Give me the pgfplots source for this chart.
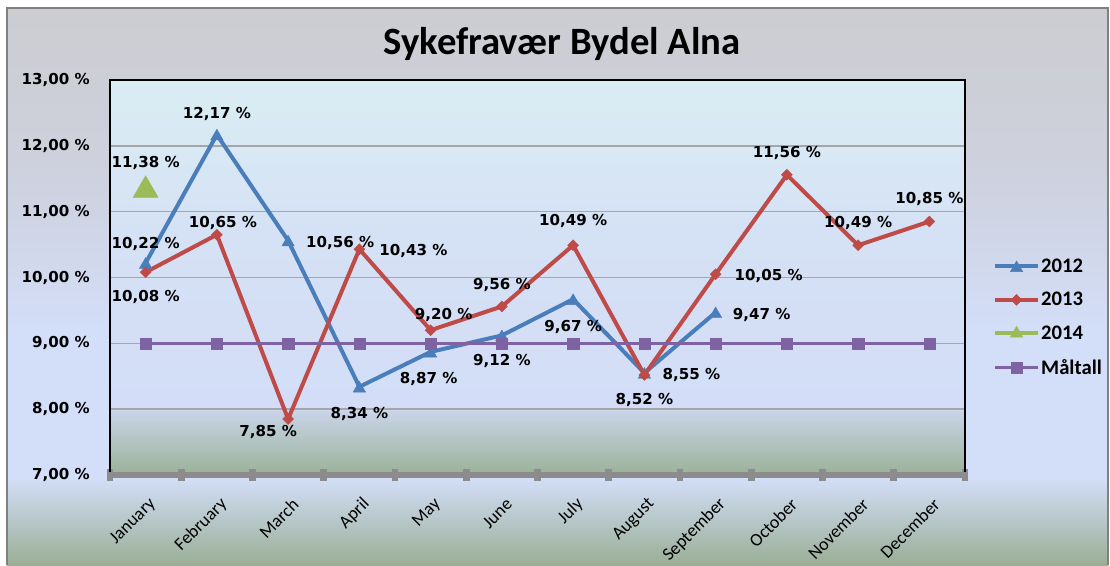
\documentclass[border=0pt]{standalone}
\usepackage{fontspec}
\setmainfont{Carlito}
\newfontfamily\lblfont{DejaVu Sans}
\usepackage{pgfplots}
\usepackage{pgfplotstable}
\pgfplotsset{compat=1.18}

\definecolor{c12}{HTML}{4A7EBB}
\definecolor{c13}{HTML}{BE4B48}
\definecolor{c14}{HTML}{9BBB59}
\definecolor{cmal}{HTML}{7F62A1}
\definecolor{axgray}{HTML}{8C8C8C}
\definecolor{gridgray}{HTML}{A6A6A6}
\definecolor{pgreen}{HTML}{9AB198}
\definecolor{pgreenlt}{HTML}{C9D4E8}
\definecolor{pblue}{HTML}{D3DDF7}
\definecolor{pblue2}{HTML}{D5E1F5}
\definecolor{ptop}{HTML}{DAEDF3}
\definecolor{ogreen}{HTML}{9AAE96}
\definecolor{oblue}{HTML}{D3DEF8}
\definecolor{ogray1}{HTML}{CED1DE}
\definecolor{ogray}{HTML}{CCCDD1}

% plot area: 7 -> 25bp, 13 -> 75bp
\pgfdeclareverticalshading{plotbg}{100bp}{color(0bp)=(pgreen); color(25bp)=(pgreen); color(33.1bp)=(pgreenlt); color(33.4bp)=(pblue); color(55bp)=(pblue2); color(75bp)=(ptop); color(100bp)=(ptop)}
\pgfdeclareverticalshading{outerbg}{100bp}{color(0bp)=(ogreen); color(25bp)=(ogreen); color(32.8bp)=(oblue); color(46bp)=(oblue); color(60bp)=(ogray1); color(75bp)=(ogray); color(100bp)=(ogray)}

% x  y  label offsets dx dy (px)
\pgfplotstableread{
x y dx dy
0 10.22 0 21
1 12.17 0 22
2 10.56 52 -1
3 8.34 0 -25
4 8.87 -2 -25
5 9.12 0 -24
6 9.67 0 -26
7 8.55 47 0
8 9.47 46 -1
}\tabA
\pgfplotstableread{
x y dx dy
0 10.08 0 -25
1 10.65 6 12
2 7.85 -20 -13
3 10.43 54 -2
4 9.20 13 15
5 9.56 0 21
6 10.49 0 24
7 8.52 0 -25
8 10.05 53 -2
9 11.56 0 22
10 10.49 0 22
11 10.85 0 23
}\tabB
\pgfplotstableread{
x y dx dy
0 11.38 0 27
}\tabC
\pgfplotstableread{
x y
0 9
1 9
2 9
3 9
4 9
5 9
6 9
7 9
8 9
9 9
10 9
11 9
}\tabD

\pgfkeys{/pgf/number format/.cd, fixed, fixed zerofill, precision=2, use comma, assume math mode=true}

\begin{document}
\begin{tikzpicture}
\path[use as bounding box] (-82.5pt,-67.5pt) rectangle (750pt,356.25pt);
\fill[white] (-82.5pt,-67.5pt) rectangle (750pt,356.25pt);
\shade[shading=outerbg] (-77.25pt,-67.5pt) rectangle (748.5pt,350.25pt);
\draw[gray, line width=0.9pt] (-77.25pt,-67.5pt) -- (-77.25pt,350.25pt) -- (748.5pt,350.25pt) -- (748.5pt,-67.5pt);

\begin{axis}[
  at={(0pt,0pt)}, anchor=south west,
  scale only axis, width=641.25pt, height=296.25pt,
  xmin=-0.5, xmax=11.5, ymin=7, ymax=13,
  clip=false,
  axis background/.style={shade, shading=plotbg},
  axis line style={draw=none},
  xtick={0,...,11},
  xticklabels={January,February,March,April,May,June,July,August,September,October,November,December},
  minor xtick={-0.5,0.5,...,11.5},
  xtick pos=bottom, ytick pos=left,
  major tick length=0pt, minor tick length=9pt, tick align=center,
  minor x tick style={axgray, line width=5pt},
  ytick={7,...,13},
  ymajorgrids, major grid style={gridgray, line width=1.1pt},
  yticklabel={\pgfmathprintnumber{\tick}~\%},
  yticklabel style={font=\lblfont\bfseries\fontsize{11.3}{13}\selectfont, anchor=east, inner sep=0pt, xshift=-15pt},
  xticklabel style={font=\fontsize{13.5}{15}\selectfont, rotate=45, anchor=east, inner sep=0pt, xshift=-10pt, yshift=-18pt},
  legend style={draw=none, fill=none, at={(1.028,0.399)}, anchor=west,
    font=\bfseries\fontsize{15.5}{17}\selectfont, row sep=11.5pt, nodes={inner sep=1pt}},
  legend cell align=left,
  legend image code/.code={\draw[mark repeat=2,mark phase=2,#1] plot coordinates {(0pt,0pt) (16pt,0pt) (32pt,0pt)};},
  lbl/.style={nodes near coords={\pgfmathprintnumber{\pgfplotspointmeta}~\%},
    point meta=\thisrow{y},
    visualization depends on={\thisrow{dx}\as\dx},
    visualization depends on={\thisrow{dy}\as\dy},
    every node near coord/.append style={anchor=center, text=black,
      xshift=\dx*0.75pt, yshift=\dy*0.75pt,
      font=\lblfont\bfseries\fontsize{11.3}{13}\selectfont}},
  after end axis/.code={
    \draw[black, line width=1.6pt] (rel axis cs:0,0) -- (rel axis cs:0,1) -- (rel axis cs:1,1) -- (rel axis cs:1,0);
    \draw[axgray, line width=3.8pt] ([xshift=-2pt]rel axis cs:0,0) -- ([xshift=1pt]rel axis cs:1,0);
  },
]
\addplot[c12, line width=3pt, mark=triangle*, mark size=5.4pt,
  mark options={solid, fill=c12, line width=0.3pt, yshift=-1.3pt}, lbl] table[x=x,y=y] {\tabA};
\addplot[c13, line width=3pt, mark=square*, mark size=2.9pt,
  mark options={solid, fill=c13, line width=0.3pt, rotate=45}, lbl] table[x=x,y=y] {\tabB};
\addplot[c14, only marks, mark=triangle*, mark size=10.8pt,
  mark options={solid, fill=c14, line width=0.3pt, yshift=-2.6pt}, lbl, forget plot] table[x=x,y=y] {\tabC};
\addlegendimage{c14, line width=3pt, mark=triangle*, mark size=5.4pt, mark options={solid, fill=c14, line width=0.3pt}}
\addplot[cmal, line width=2.6pt, mark=square*, mark size=4.2pt,
  mark options={solid, fill=cmal, line width=0.3pt}] table[x=x,y=y] {\tabD};
\legend{2012,2013,2014,Måltall}
\end{axis}

\node[font=\bfseries\fontsize{29}{31}\selectfont, anchor=base] at (339pt,315pt) {Sykefravær Bydel Alna};
\end{tikzpicture}
\end{document}
